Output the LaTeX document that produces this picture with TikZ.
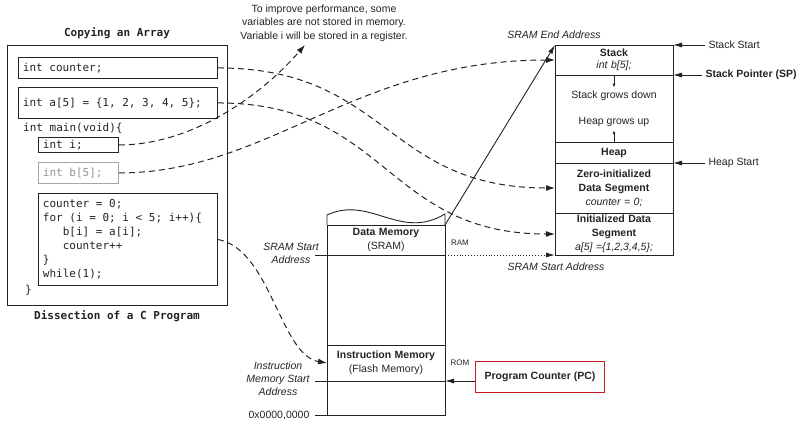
\documentclass[tikz,border=0pt]{standalone}
\usepackage{fontspec}
\setmainfont{Liberation Sans}
\setmonofont{DejaVu Sans Mono}
\usetikzlibrary{arrows.meta,positioning}

\definecolor{ink}{RGB}{35,35,35}
\definecolor{pcred}{RGB}{200,25,35}

\begin{document}
\begin{tikzpicture}[
	x=1pt, y=-1pt,
	every node/.style={font=\fontsize{10.5}{14}\selectfont, text=ink},
	code/.style={font=\fontsize{11}{14}\selectfont\ttfamily, inner sep=0pt, anchor=west},
	codebox/.style={rectangle, draw=ink, line width=0.9pt, anchor=north west, inner xsep=4pt, inner ysep=1pt, align=flush left,
		execute at begin node={\spaceskip=0pt\xspaceskip=0pt}, font=\fontsize{11}{14}\selectfont\ttfamily},
	segment/.style={rectangle, draw=ink, line width=0.9pt, outer sep=0pt, minimum width=118pt, text width=112pt, align=center, inner sep=0pt},
	addr/.style={font=\fontsize{10.5}{13}\selectfont\itshape, align=center, inner sep=1pt},
	link/.style={-{Latex[length=9pt,width=6pt]}, dash pattern=on 6pt off 4pt, line width=1pt, draw=ink},
	pointer/.style={-{Latex[length=9pt,width=5pt]}, line width=0.9pt, draw=ink},
	growtip/.style={-{Latex[length=4pt,width=3pt]}, line width=0.7pt, draw=ink}
]
\useasboundingbox (0,0) rectangle (800,424);

% C source listing
\node (title) [font=\fontsize{11}{14}\selectfont\ttfamily\bfseries] at (117,33) {Copying an Array};
\node (prog) [draw=ink, line width=0.9pt, minimum width=220pt, minimum height=260pt, anchor=north west, inner sep=0pt] at (7,45) {};
\node (dissect) [font=\fontsize{11}{14}\selectfont\ttfamily\bfseries] at (117,316) {Dissection of a C Program};
\node (counter) [codebox, minimum width=199pt, minimum height=21pt, text width=190pt] at (18,57) {int counter;};
\node (a5) [codebox, minimum width=199pt, minimum height=31pt, text width=190pt] at (18,87) {int a[5] = \{1, 2, 3, 4, 5\};};
\node (main) [code] at (23,128) {int main(void)\{};
\node (ivar) [codebox, minimum width=80pt, minimum height=15pt, text width=71pt] at (38,137) {int i;};
\node (b5) [codebox, draw=gray!70, text=gray!85, minimum width=80pt, minimum height=21pt, text width=71pt] at (38,162) {int b[5];};
\node (body) [codebox, minimum width=179pt, minimum height=92pt, text width=170pt] at (38,193)
	{counter = 0;\\for (i = 0; i < 5; i++)\{\\\phantom{for}b[i] = a[i];\\\phantom{for}counter++\\\}\\while(1);};
\node (close) [code] at (25,290) {\}};

% note on register variables
\node (note) [align=center, font=\fontsize{10.5}{13.5}\selectfont] at (324,23)
	{To improve performance, some\\variables are not stored in memory.\\Variable i will be stored in a register.};

% physical memory
\node (datamem) [segment, minimum height=30pt] at (386,240) {\textbf{Data Memory}\\(SRAM)};
\node (freemem) [segment, minimum height=90pt, below=0pt of datamem] {};
\node (instmem) [segment, minimum height=36pt, below=0pt of freemem] {\textbf{Instruction Memory}\\(Flash Memory)};
\node (bootmem) [segment, minimum height=34pt, below=0pt of instmem] {};
\coordinate (wavel) at ([yshift=10pt]datamem.north west);
\coordinate (waver) at ([yshift=11pt]datamem.north east);
\draw [line width=0.9pt, draw=ink] (datamem.north west) -- (wavel) .. controls +(43,-20) and +(-45,27) .. (waver) -- (datamem.north east);
\node (ram) [font=\fontsize{8}{9}\selectfont] at (460,243) {RAM};
\node (rom) [font=\fontsize{8}{9}\selectfont] at (460,363) {ROM};

\node (sramaddr) [addr] at (291,253) {SRAM Start\\Address};
\node (iaddr) [addr] at (278,379) {Instruction\\Memory Start\\Address};
\node (zaddr) at (279,415) {0x0000,0000};
\coordinate (sramtick) at (315,255);
\coordinate (itick) at (315,381);
\coordinate (ztick) at (315,415);
\draw [line width=0.9pt, draw=ink] (sramtick) -- (datamem.south west);
\draw [line width=0.9pt, draw=ink] (itick) -- (instmem.south west);
\draw [line width=0.9pt, draw=ink] (ztick) -- (bootmem.south west);

\node (pc) [draw=pcred, line width=1.2pt, minimum width=129pt, minimum height=31pt, font=\fontsize{10.5}{14}\selectfont\bfseries] at (540,377) {Program Counter (PC)};
\draw [pointer] (pc.west |- instmem.south) -- (instmem.south east);

% SRAM map
\node (stack) [segment, minimum height=30pt, font=\fontsize{10.5}{12.5}\selectfont] at (614,60) {\textbf{Stack}\\\textit{int b[5];}};
\node (gap) [segment, minimum height=67pt, below=0pt of stack] {};
\node (heap) [segment, minimum height=21pt, below=0pt of gap] {\textbf{Heap}};
\node (zero) [segment, minimum height=50pt, below=0pt of heap] {\textbf{Zero-initialized}\\\textbf{Data Segment}\\\textit{counter = 0;}};
\node (init) [segment, minimum height=42pt, below=0pt of zero] {\textbf{Initialized Data}\\\textbf{Segment}\\\textit{a[5] =\{1,2,3,4,5\};}};
\node (sgd) at (614,96) {Stack grows down};
\node (hgu) at (614,122) {Heap grows up};
\draw [growtip] (stack.south) -- (sgd.north);
\draw [growtip] (heap.north) -- (hgu.south);

\node (sramend) [addr] at (554,35) {SRAM End Address};
\node (sramstart) [addr] at (556,267) {SRAM Start Address};
\node (sstart) [anchor=west] at (705,45) {Stack Start};
\node (sp) [anchor=west, font=\fontsize{10.5}{14}\selectfont\bfseries] at (702,75) {Stack Pointer (SP)};
\node (hstart) [anchor=west] at (705,163) {Heap Start};
\draw [pointer] (sstart.west) -- (stack.north east);
\draw [pointer] (sp.west) -- (stack.south east);
\draw [pointer] (hstart.west) -- (heap.south east);

\draw [pointer] (datamem.north east) -- (stack.north west);
\draw [pointer, dotted] (datamem.south east) -- (init.south west);

% where each piece of the program lives
\draw [link] (counter.east) .. controls +(170,0) and +(-170,0) .. (zero.west);
\draw [link] (a5.east) .. controls +(170,0) and +(-170,0) .. (init.west);
\draw [link] (b5.east) .. controls +(150,0) and +(-200,0) .. (stack.west);
\draw [link] (ivar.east) .. controls +(72,0) and +(-45,52) .. ([xshift=-19pt]note.south);
\draw [link] (body.east) .. controls +(53,10) and +(-47,-8) .. (instmem.west);
\end{tikzpicture}
\end{document}
